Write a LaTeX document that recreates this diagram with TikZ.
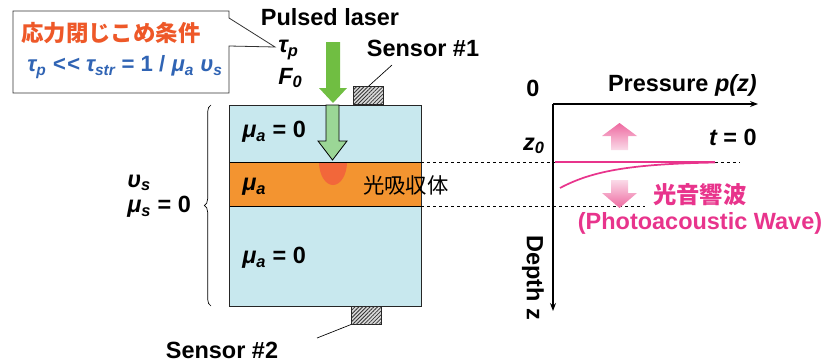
\documentclass[tikz,border=0pt]{standalone}
\usepackage{fontspec}
\setmainfont{Liberation Sans}
\newfontfamily\jpfont{Noto Sans CJK JP}
\usepackage{xcolor}
\usepackage{tikz}
\usetikzlibrary{positioning,arrows.meta,calc,patterns.meta,decorations.pathreplacing}
\definecolor{sBlue}{RGB}{200,232,238}
\definecolor{sOrange}{RGB}{243,148,48}
\definecolor{sSpot}{RGB}{242,96,60}
\definecolor{lGreen}{RGB}{112,190,66}
\definecolor{bGreen}{RGB}{155,214,150}
\definecolor{cRed}{RGB}{238,88,40}
\definecolor{cBlue}{RGB}{48,100,180}
\definecolor{pwPink}{RGB}{232,52,140}
\definecolor{pwLight}{RGB}{250,218,232}
\definecolor{pwDark}{RGB}{238,105,160}
\newcommand\sub[1]{\textsubscript{#1}}
\tikzset{
  lbl/.style={font=\fontsize{17.6}{20}\selectfont\bfseries, inner sep=0pt},
  jp/.style={font=\fontsize{16}{19}\selectfont\jpfont, inner sep=0pt},
  layer/.style={fill=sBlue},
  absorber/.style={fill=sOrange},
  sensor/.style={draw=black!85, fill=black!15,
                 postaction={pattern={Lines[angle=45,distance=2pt,line width=0.6pt]}, pattern color=black!80},
                 minimum width=22.5pt, minimum height=13.5pt, inner sep=0pt},
  lead/.style={draw=black, line width=0.5pt},
  cut/.style={draw=black, line width=0.5pt, dash pattern=on 2.5pt off 2pt},
  axis/.style={draw=black, line width=0.8pt, -{Stealth[length=6pt,width=4.5pt]}},
  callout/.style={draw=black!80, fill=white, line width=0.6pt},
  pw/.style={draw=pwPink, line width=1.3pt},
}
\begin{document}
\begin{tikzpicture}[x=0.75pt,y=-0.75pt]
  \useasboundingbox (0,0) rectangle (825,364);

  % callout with the stress confinement condition
  \draw[callout] (13,11) -- (229,11) -- (229,18) -- (275,47) -- (229,46)
                 -- (229,93) -- (13,93) -- cycle;
  \node[lbl, jp, font=\fontsize{16.8}{19}\selectfont\jpfont\bfseries, text=cRed] (cond) at (111,33) {応力閉じこめ条件};
  \node[lbl, text=cBlue, font=\fontsize{16.6}{20}\selectfont\bfseries] (cform) at (125,67)
       {\itshape τ\sub{p} <\kern1pt< τ\sub{str} \upshape = 1 / \itshape μ\sub{a} υ\sub{s}};

  % laser
  \node[lbl] (laser) at (330,17) {Pulsed laser};
  \node[lbl, anchor=west] (tau) at (278,50) {\itshape τ\sub{p}};
  \node[lbl, anchor=west] (fluence) at (278,78) {\itshape F\sub{0}};
  \fill[lGreen] (326,42) -- (340,42) -- (340,88) -- (347,88) -- (333,103)
                -- (319,88) -- (326,88) -- cycle;

  % sample
  \fill[layer] (229,105) rectangle (421,306);
  \fill[absorber] (229,162) rectangle (421,206);
  \fill[sSpot, opacity=0.85] (347,162) arc[start angle=0, end angle=180, x radius=14, y radius=23];
  \draw[line width=0.6pt] (229,162) -- (421,162) (229,206) -- (421,206);
  \draw[line width=0.6pt, black!85] (229,105) rectangle (421,306);
  \draw[fill=bGreen, line width=0.6pt] (326,105) -- (339,105) -- (339,141) -- (347,141)
        -- (332.5,160) -- (318,141) -- (326,141) -- cycle;
  \node[lbl, anchor=west] (top) at (242,132) {\itshape μ\sub{a} \upshape = 0};
  \node[lbl, anchor=west] (mid) at (242,187) {\itshape μ\sub{a}};
  \node[lbl, anchor=west] (bot) at (242,258) {\itshape μ\sub{a} \upshape = 0};
  \node[jp, anchor=west] (absorb) at (363,185) {光吸収体};

  \draw[decorate, decoration={brace, amplitude=5pt}, line width=0.5pt] (211,306) -- (211,105);
  \node[lbl, anchor=west] (vs) at (127,183) {\itshape υ\sub{s}};
  \node[lbl, anchor=west] (mus) at (127,207) {\itshape μ\sub{s} \upshape = 0};

  % sensors
  \node[sensor, anchor=south west] (s1) at (353,105) {};
  \node[sensor, anchor=north west] (s2) at (351,306) {};
  \node[lbl] (s1lbl) at (423,48) {Sensor \#1};
  \node[lbl] (s2lbl) at (222,350) {Sensor \#2};
  \coordinate (s1end) at (392,65);
  \coordinate (s2end) at (317,338);
  \draw[lead] (s1end) -- (s1.north);
  \draw[lead] (s2end) -- (s2.south west);

  % pressure profile
  \draw[cut] (421,162) -- (740,162);
  \draw[cut] (421,206) -- (645,206);
  \coordinate (o) at (553,104);
  \coordinate (pend) at (758,104);
  \coordinate (zend) at (553,311);
  \draw[axis] (o) -- (pend);
  \draw[axis] (o) -- (zend);
  \node[lbl] (zero) at (533,88) {0};
  \node[lbl, anchor=east] (press) at (757,85) {Pressure \itshape p(z)};
  \node[lbl] (z0) at (534,146) {\itshape z\sub{0}};
  \node[lbl, anchor=east] (t0) at (757,137) {\itshape t \upshape = 0};
  \node[lbl, rotate=-90] (depth) at (533,278) {Depth z};

  \shade[top color=pwDark, bottom color=pwLight] (619.5,123) -- (637,136) -- (628,136)
        -- (628,150) -- (611,150) -- (611,136) -- (602,136) -- cycle;
  \shade[top color=pwLight, bottom color=pwDark] (611,180) -- (628,180) -- (628,193)
        -- (637,193) -- (619.5,208) -- (602,193) -- (611,193) -- cycle;
  \draw[pw] (555,162) -- (715,162);
  \draw[pw] (560,188) .. controls (592,171) and (630,164) .. (715,162.5);
  \node[lbl, jp, font=\fontsize{17.5}{19}\selectfont\jpfont\bfseries, text=pwPink, anchor=west] (pa) at (653,195) {光音響波};
  \node[lbl, text=pwPink] (paw) at (700,223) {(Photoacoustic Wave)};
\end{tikzpicture}
\end{document}
